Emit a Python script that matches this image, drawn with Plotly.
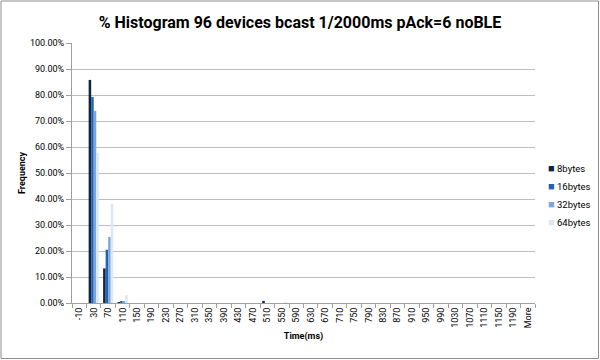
import plotly.graph_objects as go

categories = ["-10", "30", "70", "110", "150", "190", "230", "270", "310", "350",
              "390", "430", "470", "510", "550", "590", "630", "670", "710", "750",
              "790", "830", "870", "910", "950", "990", "1030", "1070", "1110", "1150",
              "1190", "More"]

def series(pairs):
    vals = [0.0] * len(categories)
    for k, v in pairs.items():
        vals[categories.index(k)] = v
    return vals

s8 = series({"30": 0.858, "70": 0.133, "110": 0.001, "510": 0.008})
s16 = series({"30": 0.792, "70": 0.205, "110": 0.005})
s32 = series({"30": 0.739, "70": 0.254, "110": 0.007})
s64 = series({"30": 0.578, "70": 0.382, "110": 0.030, "550": 0.003})

names = ["8bytes", "16bytes", "32bytes", "64bytes"]
colors = ["#0F243E", "#2260B0", "#7AA6DE", "#DCE6F4"]
data = [s8, s16, s32, s64]

FONT = "Roboto, Arial, sans-serif"

fig = go.Figure()
for n, c, d in zip(names, colors, data):
    fig.add_trace(go.Bar(x=categories, y=d, name=n, showlegend=False,
                         marker=dict(color=c, line=dict(width=0))))

L, R, T, B = 72, 65, 43, 57
W, H = 600, 360
pw, ph = W - L - R, H - T - B

fig.update_layout(
    width=W, height=H,
    margin=dict(l=L, r=R, t=T, b=B, autoexpand=False),
    paper_bgcolor="white", plot_bgcolor="white",
    barmode="group", bargap=0.3, bargroupgap=0,
    showlegend=False,
    font=dict(family=FONT, size=9, color="#404040"),
    title=dict(text="<b>% Histogram 96 devices bcast 1/2000ms pAck=6 noBLE</b>",
               x=0.5, xanchor="center", y=1 - 22 / H, yanchor="middle", yref="container",
               font=dict(family=FONT, size=16, color="#000000")),
    xaxis=dict(type="category", tickangle=-90, tickson="boundaries",
               ticks="outside", ticklen=4, tickcolor="#A0A0A0",
               showline=True, linecolor="#A0A0A0", linewidth=1,
               showgrid=False, tickfont=dict(family=FONT, size=9, color="#000000"),
               title=dict(text="<b>Time(ms)</b>", font=dict(family=FONT, size=9, color="#000000"), standoff=5)),
    yaxis=dict(range=[0, 1], dtick=0.1, tickformat=".2%",
               ticks="outside", ticklen=5, tickcolor="#A0A0A0",
               showline=True, linecolor="#A0A0A0", linewidth=1,
               showgrid=True, gridcolor="#BEBEBE", gridwidth=1, zeroline=False,
               tickfont=dict(family=FONT, size=9, color="#000000"),
               title=dict(text="<b>Frequency</b>", font=dict(family=FONT, size=9, color="#000000"), standoff=2)),
)

# legend drawn as text keys at the right (small coloured squares like the original)
legend_y = [168, 186, 204, 222]
for n, c, yy in zip(names, colors, legend_y):
    fig.add_annotation(xref="paper", yref="paper", x=(546 - L) / pw, y=(H - B - yy) / ph,
                       xanchor="left", yanchor="middle", showarrow=False,
                       text=f'<span style="color:{c};font-size:11px">■</span> {n}',
                       font=dict(family=FONT, size=9.5, color="#000000"))

# outer chart border
bx0, bx1 = (-L + 1) / pw, (W - L - 1.5) / pw
by0, by1 = (-B + 1.5) / ph, (H - B - 1) / ph
for (a, b, c, d) in [(bx0, by0, bx1, by0), (bx0, by1, bx1, by1), (bx0, by0, bx0, by1), (bx1, by0, bx1, by1)]:
    fig.add_shape(type="line", xref="paper", yref="paper", x0=a, y0=b, x1=c, y1=d,
                  line=dict(color="#8C8C8C", width=1), layer="above")

fig.write_html("out.html", config={"displayModeBar": False},
               post_script="document.body.style.margin='0';")
